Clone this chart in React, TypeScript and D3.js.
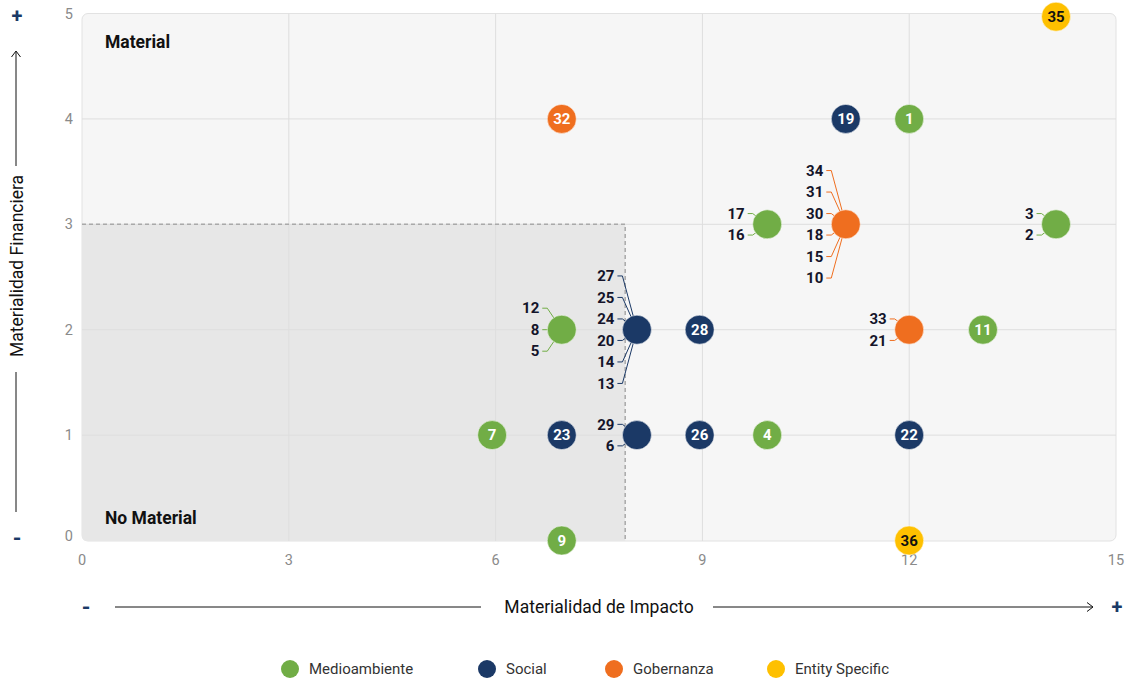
import * as d3 from 'd3';

const categories = ['Medioambiente', 'Social', 'Gobernanza', 'Entity Specific'];
const catColors = ['#71ad46', '#1b3966', '#ef6e1f', '#fec000'];
const xTicks = [0, 3, 6, 9, 12, 15];
const yTicks = [0, 1, 2, 3, 4, 5];

// each point: labels (top to bottom), impacto, financiera, category index
const pointIds: string[][] = [
  ['35'], ['32'], ['19'], ['1'],
  ['17', '16'], ['34', '31', '30', '18', '15', '10'], ['3', '2'],
  ['12', '8', '5'], ['27', '25', '24', '20', '14', '13'], ['28'], ['33', '21'], ['11'],
  ['7'], ['23'], ['29', '6'], ['26'], ['4'], ['22'],
  ['9'], ['36'],
];
const pointX = [14.13, 6.96, 11.08, 12, 9.94, 11.08, 14.13, 6.96, 8.05, 8.96, 12, 13.07, 5.95, 6.96, 8.05, 8.96, 9.94, 12, 6.96, 12];
const pointY = [4.97, 4, 4, 4, 3, 3, 3, 2, 2, 2, 2, 2, 1, 1, 1, 1, 1, 1, 0, 0];
const pointCat = [3, 2, 1, 0, 0, 2, 0, 0, 1, 1, 2, 0, 0, 1, 1, 1, 0, 1, 0, 3];

const threshold = { x: 7.88, y: 3 };

export default function App() {
  const width = 1131;
  const height = 681;
  const x = d3.scaleLinear().domain([0, 15]).range([82, 1116]);
  const y = d3.scaleLinear().domain([0, 5]).range([540.5, 13.5]);
  const font = 'Roboto, "Noto Sans", sans-serif';
  const r = 14.5;
  const x0 = x(0), x1 = x(15), y0 = y(0) + 0.5, y1 = y(5);

  const shadePath = `M${x0},${y(threshold.y)} L${x(threshold.x)},${y(threshold.y)} L${x(threshold.x)},${y0} L${x0 + 5},${y0} Q${x0},${y0} ${x0},${y0 - 5} Z`;

  return (
    <svg width={width} height={height} style={{ position: 'absolute', left: 0, top: 0 }} fontFamily={font}>
      <defs>
        <clipPath id="frame">
          <rect x={x0} y={y1} width={x1 - x0} height={y0 - y1} rx={6} />
        </clipPath>
      </defs>
      <rect x={x0} y={y1} width={x1 - x0} height={y0 - y1} rx={6} fill="#f6f6f6" stroke="#e2e2e2" />
      <path d={shadePath} fill="#e7e7e7" />
      <g clipPath="url(#frame)">
        {xTicks.slice(1, -1).map(t => (
          <line key={'gx' + t} x1={x(t)} x2={x(t)} y1={y1} y2={y0} stroke="#dedede" />
        ))}
        {yTicks.slice(1, -1).map(t => (
          <line key={'gy' + t} x1={x0} x2={x1} y1={y(t)} y2={y(t)} stroke="#dedede" />
        ))}
      </g>
      <path
        d={`M${x0},${y(threshold.y)} L${x(threshold.x)},${y(threshold.y)} L${x(threshold.x)},${y0}`}
        fill="none" stroke="#a9a9a9" strokeWidth={1.5} strokeDasharray="4,3"
      />

      {/* tick labels */}
      {xTicks.map(t => (
        <text key={'tx' + t} x={x(t)} y={565} textAnchor="middle" fontSize={14.5} fill="#8a8a8a">{t}</text>
      ))}
      {yTicks.map(t => (
        <text key={'ty' + t} x={73} y={t === 0 ? y(t) - 5 : y(t)} dy="0.35em" textAnchor="end" fontSize={14.5} fill="#8a8a8a">{t}</text>
      ))}

      {/* quadrant labels */}
      <text x={105} y={48} fontSize={17.5} fontWeight="bold" fill="#111">Material</text>
      <text x={105} y={524} fontSize={17.5} fontWeight="bold" fill="#111">No Material</text>

      {/* y axis title with arrow */}
      <text x={17} y={16} dy="0.35em" textAnchor="middle" fontSize={20} fontWeight="bold" fill="#1b3966">+</text>
      <text x={17} y={538} dy="0.35em" textAnchor="middle" fontSize={22} fontWeight="bold" fill="#1b3966">-</text>
      <line x1={16} x2={16} y1={512} y2={372} stroke="#111" />
      <line x1={16} x2={16} y1={166} y2={52} stroke="#111" />
      <path d="M11.5,57 L16,51 L20.5,57" fill="none" stroke="#111" />
      <text transform="translate(23,266) rotate(-90)" textAnchor="middle" fontSize={17.5} fill="#111">Materialidad Financiera</text>

      {/* x axis title with arrow */}
      <text x={86} y={607} dy="0.35em" textAnchor="middle" fontSize={22} fontWeight="bold" fill="#1b3966">-</text>
      <text x={1117} y={607} dy="0.35em" textAnchor="middle" fontSize={20} fontWeight="bold" fill="#1b3966">+</text>
      <line x1={115} x2={481} y1={607} y2={607} stroke="#111" />
      <line x1={713} x2={1093} y1={607} y2={607} stroke="#111" />
      <path d="M1087,602.5 L1093,607 L1087,611.5" fill="none" stroke="#111" />
      <text x={599} y={613} textAnchor="middle" fontSize={17.5} fill="#111">Materialidad de Impacto</text>

      {/* points */}
      {pointIds.map((ids, i) => {
        const cx = x(pointX[i]);
        const cy = y(pointY[i]);
        const color = catColors[pointCat[i]];
        if (ids.length === 1) {
          return (
            <g key={'p' + i}>
              <circle cx={cx} cy={cy} r={r} fill={color} stroke="#ffffff" strokeOpacity={0.5} />
              <text x={cx} y={cy} dy="0.35em" textAnchor="middle" fontSize={15} fontWeight="bold"
                fill={pointCat[i] === 3 ? '#111' : '#fff'}>{ids[0]}</text>
            </g>
          );
        }
        const textEnd = cx - r - 8;
        const n = ids.length;
        return (
          <g key={'p' + i}>
            {ids.map((id, j) => {
              const ly = cy + (j - (n - 1) / 2) * 21.5;
              return (
                <g key={id}>
                  <polyline points={`${textEnd + 3},${ly} ${textEnd + 8},${ly} ${cx},${cy}`} fill="none" stroke={color} strokeWidth={1} />
                  <text x={textEnd} y={ly} dy="0.35em" textAnchor="end" fontSize={15} fontWeight="bold" fill="#14142a">{id}</text>
                </g>
              );
            })}
            <circle cx={cx} cy={cy} r={r} fill={color} stroke="#ffffff" strokeOpacity={0.5} />
          </g>
        );
      })}

      {/* legend */}
      {categories.map((c, i) => {
        const lx = [290, 487, 614, 776][i];
        return (
          <g key={c}>
            <circle cx={lx} cy={669} r={9} fill={catColors[i]} />
            <text x={lx + 19} y={669} dy="0.35em" fontSize={15} fill="#333">{c}</text>
          </g>
        );
      })}
    </svg>
  );
}
